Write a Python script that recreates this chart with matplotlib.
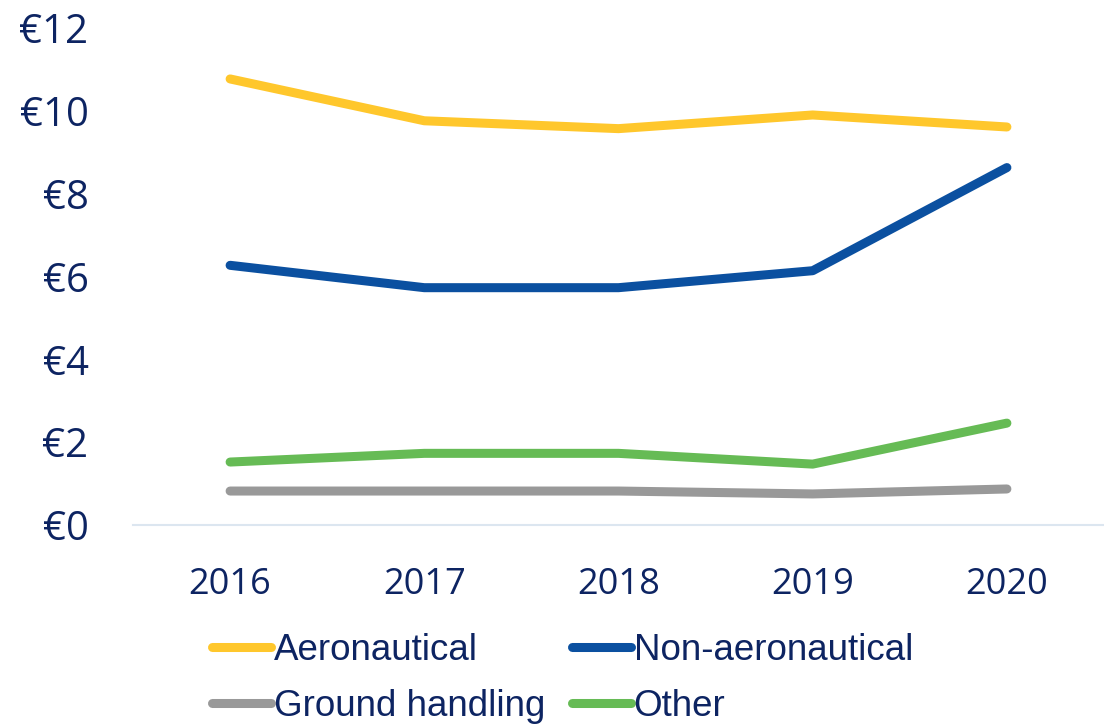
import matplotlib.pyplot as plt

years = ["2016", "2017", "2018", "2019", "2020"]
aeronautical = [10.77, 9.76, 9.57, 9.90, 9.61]
non_aeronautical = [6.27, 5.73, 5.73, 6.14, 8.63]
ground_handling = [0.82, 0.82, 0.82, 0.75, 0.87]
other = [1.52, 1.73, 1.73, 1.47, 2.46]

navy = "#0D2462"

fig = plt.figure(figsize=(11.04, 7.27), dpi=100)
ax = fig.add_axes([133 / 1104, 202 / 727, 1 - 133 / 1104, 497 / 727])

x = range(len(years))
lw = 6.5
l1, = ax.plot(x, aeronautical, color="#FFC72C", lw=lw, solid_capstyle="round", label="Aeronautical")
l2, = ax.plot(x, non_aeronautical, color="#0B50A0", lw=lw, solid_capstyle="round", label="Non-aeronautical")
l3, = ax.plot(x, ground_handling, color="#999999", lw=lw, solid_capstyle="round", label="Ground handling")
l4, = ax.plot(x, other, color="#66BB55", lw=lw, solid_capstyle="round", label="Other")

ax.set_xlim(-0.5, 4.5)
ax.set_ylim(0, 12)
ax.set_xticks(list(x))
ax.set_xticklabels(years)
ax.set_yticks(range(0, 13, 2))
ax.set_yticklabels(["€" + str(v) for v in range(0, 13, 2)])

for s in ["top", "right", "left"]:
    ax.spines[s].set_visible(False)
ax.spines["bottom"].set_color("#DCE6F0")
ax.spines["bottom"].set_linewidth(1.5)
ax.tick_params(axis="both", length=0, colors=navy)
ax.tick_params(axis="y", pad=32)
ax.tick_params(axis="x", pad=30)
for lab in ax.get_yticklabels():
    lab.set_fontfamily("Open Sans")
    lab.set_fontsize(29)
for lab in ax.get_xticklabels():
    lab.set_fontfamily("Open Sans")
    lab.set_fontsize(26)

# row-wise order like the original legend
handles = [l1, l3, l2, l4]
leg = fig.legend(handles, [h.get_label() for h in handles],
                 loc="upper left", bbox_to_anchor=(212 / 1104, 1 - 633 / 727),
                 ncol=2, frameon=False, borderpad=0, borderaxespad=0,
                 handlelength=1.6, handletextpad=0.08, columnspacing=0.72,
                 labelspacing=0.58, prop={"family": "Liberation Sans", "size": 26.5})
for t in leg.get_texts():
    t.set_color(navy)

plt.savefig("out.png", dpi=100)
